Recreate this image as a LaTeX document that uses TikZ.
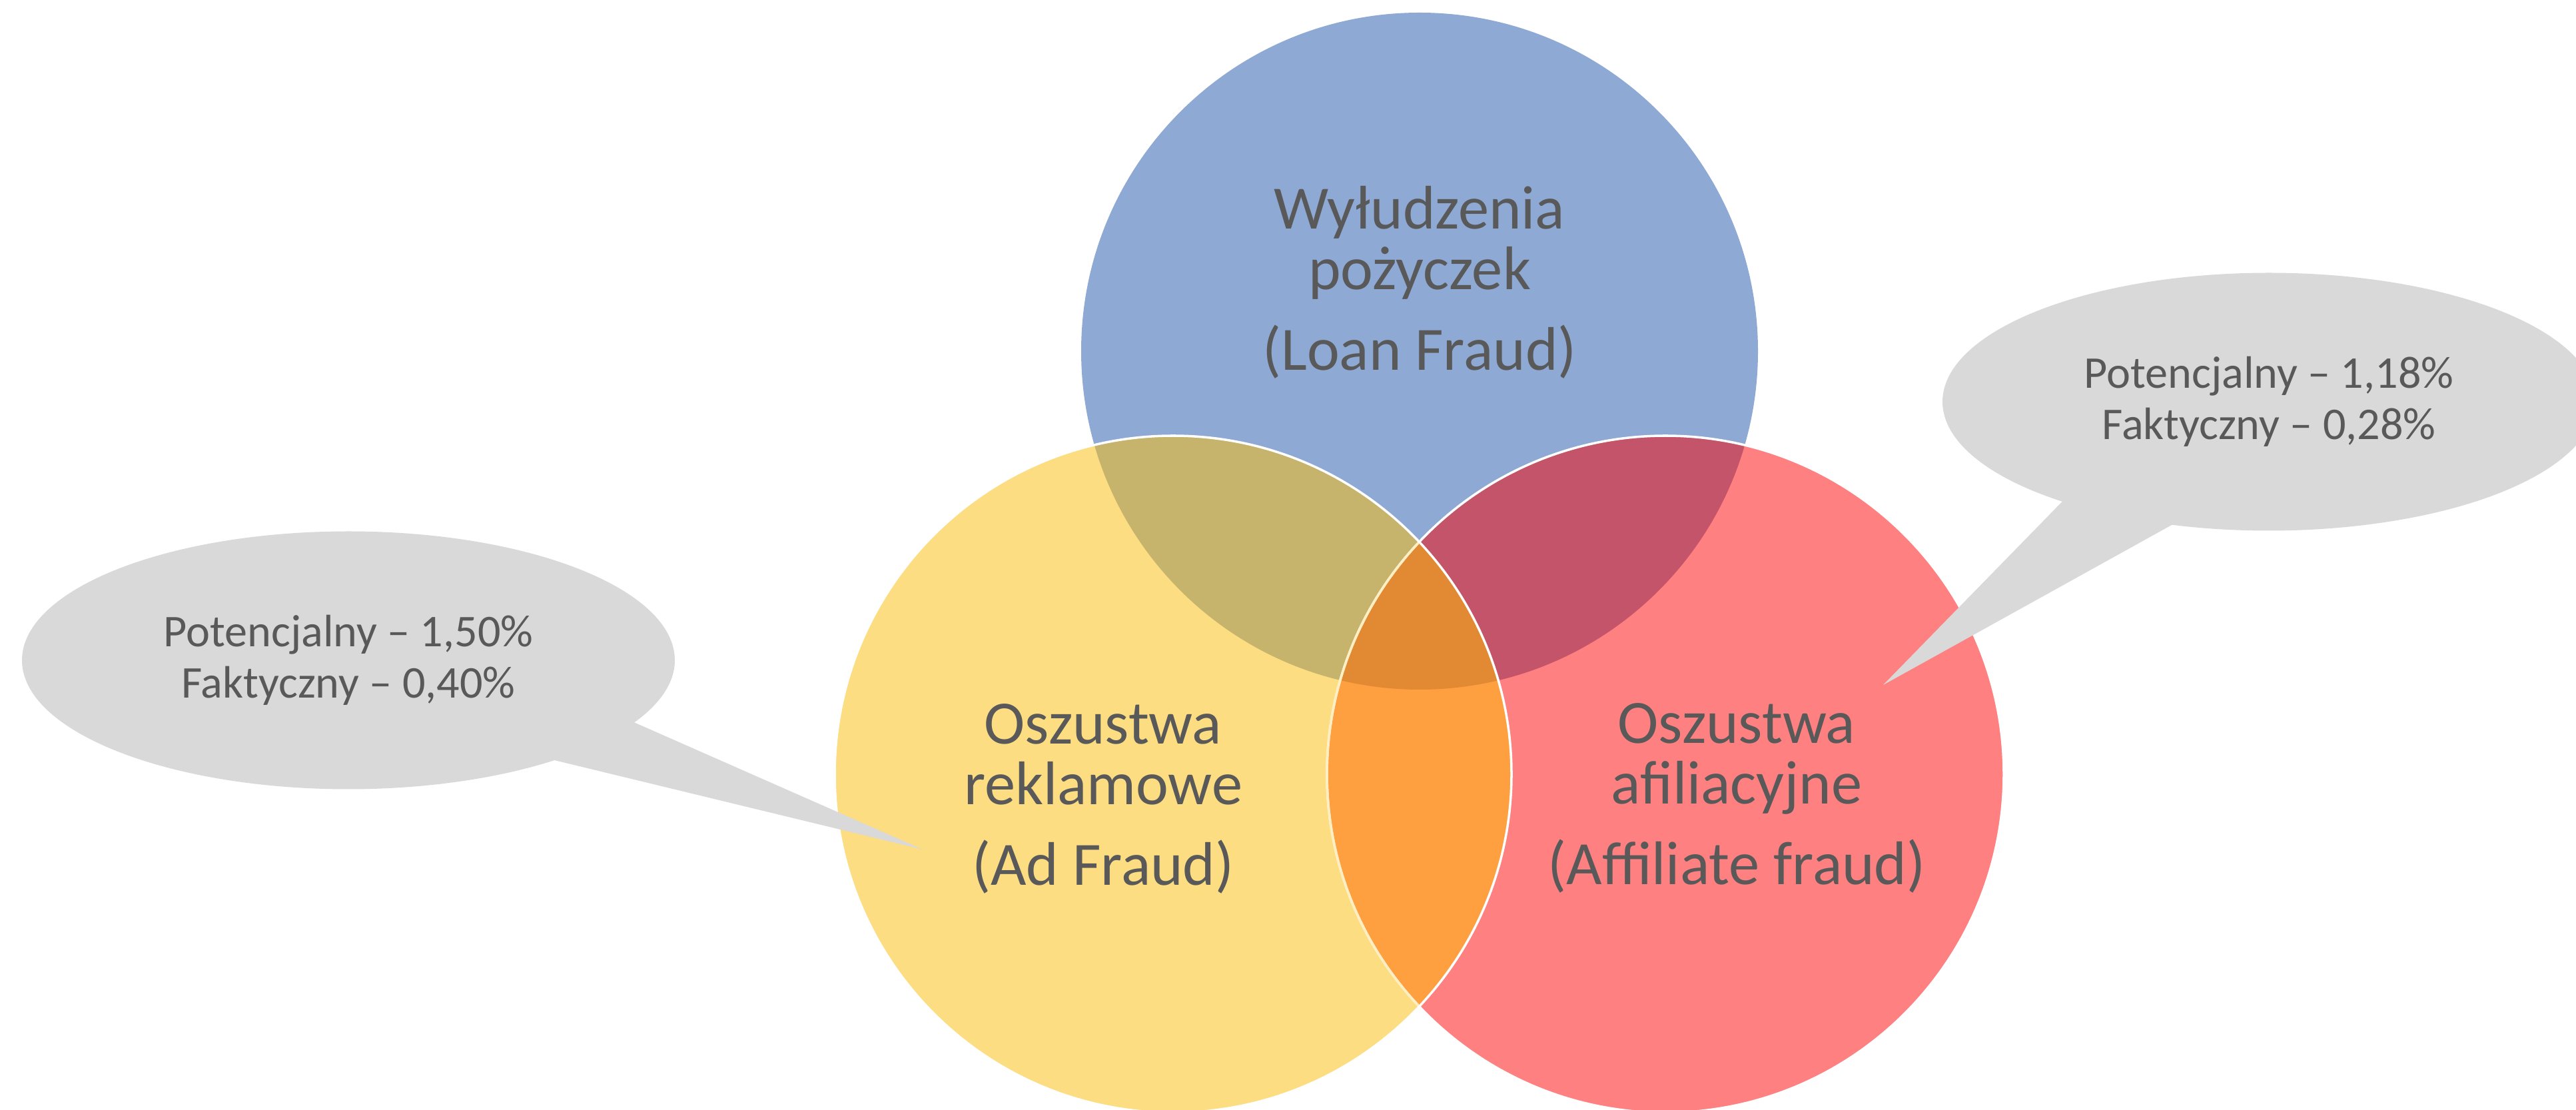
\documentclass[tikz,border=0pt]{standalone}
\usepackage{fontspec}
\setmainfont{Carlito}
\usetikzlibrary{shapes.callouts}
\definecolor{xanh}{HTML}{8EA9D4}
\definecolor{vang}{HTML}{FDDD82}
\definecolor{hong}{HTML}{FF8080}
\definecolor{xanhvang}{HTML}{C6B46C}
\definecolor{xanhhong}{HTML}{C4546A}
\definecolor{vanghong}{HTML}{FFA040}
\definecolor{giua}{HTML}{E28A33}
\definecolor{chu}{HTML}{595959}
\definecolor{xam}{HTML}{D9D9D9}
\newcommand{\chuto}{\fontsize{26.3}{25.9}\selectfont\lineskiplimit=-100pt\relax}
\begin{document}
\begin{tikzpicture}[line join=round, line cap=round,
	nhan/.style={text=chu, align=center, inner sep=0pt, anchor=base, font=\chuto},
	bong/.style={ellipse callout, fill=xam, text=chu, inner sep=0pt, minimum width=9.8cm, minimum height=3.87cm, callout pointer arc=22, align=center, font=\fontsize{19.4}{21.9}\selectfont}]
	\useasboundingbox (0,0) rectangle (38.67,16.65);
	\coordinate (A) at (21.31,11.38);
	\coordinate (B) at (17.61,5.03);
	\coordinate (C) at (25.00,5.03);
	\fill[xanh] (A) circle (5.08);
	\fill[hong] (C) circle (5.08);
	\fill[vang] (B) circle (5.08);
	\begin{scope}
		\clip (A) circle (5.08);
		\fill[xanhvang] (B) circle (5.08);
		\fill[xanhhong] (C) circle (5.08);
	\end{scope}
	\begin{scope}
		\clip (B) circle (5.08);
		\fill[vanghong] (C) circle (5.08);
		\clip (C) circle (5.08);
		\fill[giua] (A) circle (5.08);
	\end{scope}
	\draw[white, line width=1pt] (C) circle (5.08);
	\begin{scope}
		\clip (B) circle (5.08);
		\draw[vang!50, line width=1pt] (C) circle (5.08);
	\end{scope}
	\draw[white, line width=1pt] (B) circle (5.08);
	\node[nhan] (vay) at (21.31,11.09) {Wyłudzenia\\pożyczek\\[8.8pt](Loan Fraud)};
	\node[nhan] (quangcao) at (16.56,3.36) {Oszustwa\\reklamowe\\[8.8pt](Ad Fraud)};
	\node[nhan] (afiliacja) at (26.07,3.37) {Oszustwa\\afiliacyjne\\[8.8pt](Affiliate fraud)};
	\coordinate (dinhtrai) at (13.85,3.90);
	\coordinate (dinhphai) at (28.27,6.37);
	\node[bong, callout absolute pointer={(dinhtrai)}] (bongtrai) at (5.23,6.74) {Potencjalny – 1,50\%\\Faktyczny – 0,40\%};
	\node[bong, callout absolute pointer={(dinhphai)}] (bongphai) at (34.06,10.62) {Potencjalny – 1,18\%\\Faktyczny – 0,28\%};
\end{tikzpicture}
\end{document}
